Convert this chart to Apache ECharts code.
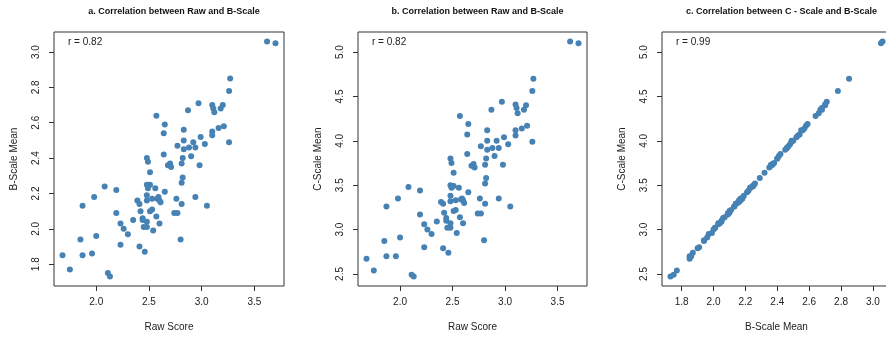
<!DOCTYPE html>
<html>
<head>
<meta charset="utf-8">
<script src="https://cdn.jsdelivr.net/npm/echarts@6/dist/echarts.min.js"></script>
<style>html,body{margin:0;padding:0;background:#fff}#c{width:886px;height:337px}</style>
</head>
<body>
<div id="c"></div>
<script>
// Raw score per respondent
const raw = [3.62,3.70,3.27,3.26,2.97,2.87,3.10,3.11,3.12,3.20,
  3.18,2.57,2.65,2.83,2.64,3.21,3.16,3.10,3.10,2.99,
  2.92,2.83,3.03,2.77,3.26,2.88,2.94,2.83,2.64,2.48,
  2.49,2.90,2.82,2.81,2.68,2.70,2.71,2.98,2.51,2.82,
  2.81,2.08,2.48,2.51,2.49,2.56,2.65,2.19,1.98,2.48,
  2.48,2.39,2.41,2.53,2.58,2.60,2.59,2.61,2.76,2.94,
  2.81,1.87,2.19,2.42,2.51,2.53,2.74,2.77,3.05,2.44,
  2.44,2.35,2.23,2.57,2.48,2.60,2.45,2.48,2.26,2.54,
  2.30,2.00,1.85,2.80,2.23,2.41,2.46,1.68,1.87,1.96,
  1.75,2.11,2.13];
// B-Scale mean per respondent
const bScale = [3.06,3.05,2.85,2.78,2.71,2.67,2.70,2.68,2.66,2.70,
  2.68,2.64,2.59,2.56,2.54,2.58,2.57,2.55,2.53,2.52,
  2.49,2.50,2.48,2.47,2.49,2.46,2.46,2.45,2.42,2.40,
  2.38,2.41,2.40,2.37,2.36,2.37,2.35,2.36,2.32,2.29,
  2.26,2.24,2.25,2.25,2.23,2.23,2.21,2.22,2.18,2.19,
  2.16,2.16,2.14,2.17,2.17,2.16,2.18,2.15,2.17,2.18,
  2.14,2.13,2.09,2.10,2.10,2.11,2.09,2.09,2.13,2.06,
  2.05,2.05,2.03,2.07,2.04,2.03,2.01,2.01,2.00,1.99,
  1.97,1.96,1.94,1.94,1.91,1.90,1.87,1.85,1.85,1.86,
  1.77,1.75,1.73];
// C-Scale mean per respondent
const cScale = [5.12,5.10,4.70,4.56,4.44,4.35,4.41,4.37,4.31,4.40,
  4.35,4.28,4.19,4.12,4.07,4.17,4.14,4.12,4.06,4.04,
  4.00,4.00,3.96,3.94,3.99,3.92,3.92,3.90,3.85,3.80,
  3.75,3.83,3.80,3.73,3.72,3.74,3.70,3.73,3.64,3.58,
  3.52,3.48,3.50,3.49,3.47,3.47,3.42,3.44,3.35,3.38,
  3.32,3.31,3.29,3.33,3.34,3.33,3.35,3.30,3.35,3.35,
  3.29,3.26,3.17,3.19,3.21,3.22,3.18,3.18,3.26,3.13,
  3.10,3.09,3.06,3.14,3.07,3.07,3.02,3.02,3.00,2.96,
  2.95,2.91,2.87,2.88,2.80,2.79,2.74,2.67,2.70,2.70,
  2.54,2.49,2.47];

const rawTicks = [2.0, 2.5, 3.0, 3.5];
const bTicks = [1.8, 2.0, 2.2, 2.4, 2.6, 2.8, 3.0];
const cTicks = [2.5, 3.0, 3.5, 4.0, 4.5, 5.0];

const panelTitles = ['a. Correlation between Raw and B-Scale',
                     'b. Correlation between Raw and B-Scale',
                     'c. Correlation between C - Scale and B-Scale'];
const rLabels = ['r = 0.82', 'r = 0.82', 'r = 0.99'];
const xNames = ['Raw Score', 'Raw Score', 'B-Scale Mean'];
const yNames = ['B-Scale Mean', 'C-Scale Mean', 'C-Scale Mean'];

// R-style 4% axis extension
function ext(a) {
  const mn = Math.min(...a), mx = Math.max(...a), r = mx - mn;
  return [mn - 0.04 * r, mx + 0.04 * r];
}

const FONT = 'Liberation Sans, Arial, sans-serif';
const TXT = '#222';
const grids = [
  {left: 54, top: 32, width: 230, height: 254},
  {left: 358, top: 32, width: 229, height: 254},
  {left: 662, top: 32, width: 229, height: 254}
];
const pairs = [[raw, bScale, rawTicks, bTicks], [raw, cScale, rawTicks, cTicks], [bScale, cScale, bTicks, cTicks]];

const option = {
  animation: false,
  backgroundColor: '#fff',
  textStyle: {fontFamily: FONT},
  title: panelTitles.map((t, i) => ({
    text: t, left: grids[i].left + grids[i].width / 2, top: 2, textAlign: 'center',
    textStyle: {fontSize: 9, fontWeight: 'bold', color: '#111', fontFamily: FONT}
  })),
  grid: grids.map(g => Object.assign({show: true, borderColor: '#333', borderWidth: 1,
    backgroundColor: 'transparent', containLabel: false, outerBoundsMode: 'none'}, g)),
  graphic: rLabels.map((t, i) => ({
    type: 'text', left: grids[i].left + 14, top: 37,
    style: {text: t, fontSize: 10, fill: TXT, fontFamily: FONT}
  })),
  xAxis: pairs.map((p, i) => {
    const e = ext(p[0]);
    return {
      type: 'value', gridIndex: i, min: e[0], max: e[1],
      name: xNames[i], nameLocation: 'middle', nameGap: 36,
      nameTextStyle: {fontSize: 10, color: TXT, fontFamily: FONT},
      axisLine: {show: false},
      axisTick: {show: true, length: 5, customValues: p[2], lineStyle: {color: '#333'}},
      axisLabel: {customValues: p[2], margin: 11, fontSize: 10, color: TXT, fontFamily: FONT,
        formatter: v => v.toFixed(1)},
      splitLine: {show: false}
    };
  }),
  yAxis: pairs.map((p, i) => {
    const e = ext(p[1]);
    return {
      type: 'value', gridIndex: i, min: e[0], max: e[1],
      name: yNames[i], nameLocation: 'middle', nameGap: 35, nameRotate: 90,
      nameTextStyle: {fontSize: 10, color: TXT, fontFamily: FONT},
      axisLine: {show: false},
      axisTick: {show: true, length: 5, customValues: p[3], lineStyle: {color: '#333'}},
      axisLabel: {customValues: p[3], rotate: 90, margin: 13, fontSize: 10, color: TXT, fontFamily: FONT,
        formatter: v => v.toFixed(1)},
      splitLine: {show: false}
    };
  }),
  series: pairs.map((p, i) => ({
    type: 'scatter', xAxisIndex: i, yAxisIndex: i,
    symbolSize: 6,
    itemStyle: {color: '#4682B4', opacity: 1},
    data: p[0].map((x, k) => [x, p[1][k]])
  }))
};

echarts.init(document.getElementById('c')).setOption(option);
</script>
</body>
</html>
